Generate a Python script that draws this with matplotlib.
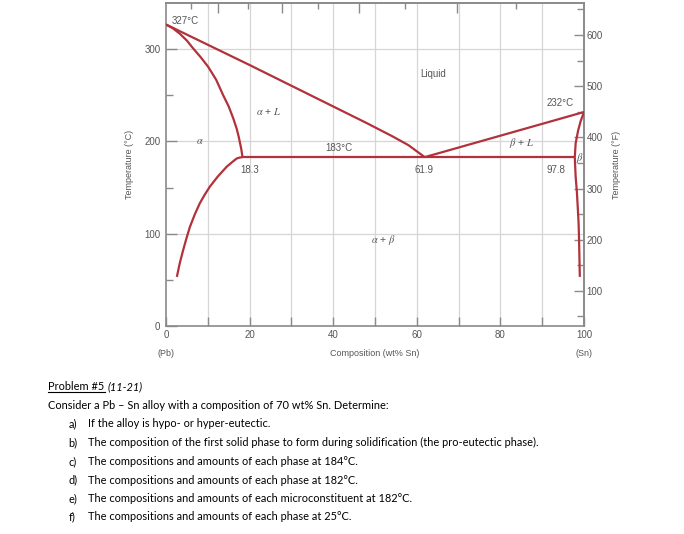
import matplotlib
matplotlib.use("Agg")
import matplotlib.pyplot as plt
from matplotlib.lines import Line2D

# phase boundaries of the Pb-Sn diagram (wt% Sn, deg C)
liq_left_wt = [0, 10, 20, 30, 40, 48, 54, 58, 61.9]
liq_left_T = [327, 305, 283, 260.5, 238, 220, 206, 196, 183]
liq_right_wt = [61.9, 100]
liq_right_T = [183, 232]
sol_alpha_wt = [0, 1.6, 3.3, 5.0, 6.5, 8.3, 10.1, 12.0, 13.7, 15.0, 16.1, 16.9, 17.4, 18.0, 18.3]
sol_alpha_T = [327, 323, 317, 309.5, 301, 291.5, 281, 267, 250, 238, 225, 214, 205, 192, 183]
solv_alpha_wt = [18.3, 17.6, 16.9, 15.8, 14.5, 12.4, 10.5, 9.3, 8.1, 6.9, 5.7, 4.9, 4.1, 3.3, 2.6]
solv_alpha_T = [183, 182.5, 181.5, 177.5, 172.5, 162, 151, 142.5, 133, 121, 107, 95, 82, 68, 53]
sol_beta_wt = [100, 99.6, 99.2, 98.6, 98.0, 97.8]
sol_beta_T = [232, 227, 222, 212, 198, 183]
solv_beta_wt = [97.8, 97.9, 98.0, 98.3, 98.5, 98.7, 98.8, 98.9, 99.0]
solv_beta_T = [183, 172, 162, 145, 129, 112, 97, 75, 53]
eut_wt = [18.3, 97.8]
eut_T = [183, 183]

# labels inside the diagram
region_text = ["327°C", "Liquid", r"$\alpha$ + $L$", r"$\alpha$", "183°C", "18.3",
               "61.9", "97.8", "232°C", r"$\beta$ + $L$", r"$\beta$", r"$\alpha$ + $\beta$"]
region_wt = [1.4, 64, 24.5, 8, 41.3, 20.1, 61.7, 93.2, 94.4, 85.2, 99.0, 52]
region_T = [331, 273, 232, 200, 193, 169, 169.5, 169.5, 242, 198, 182, 93]

xticks = [0, 20, 40, 60, 80, 100]
yticks_C = [0, 100, 200, 300]
yticks_F = [100, 200, 300, 400, 500, 600]
top_at = [10, 20, 30, 40, 50, 60, 70, 80, 90]

problem_items = ["a)", "b)", "c)", "d)", "e)", "f)"]
problem_lines = [
    "If the alloy is hypo- or hyper-eutectic.",
    "The composition of the first solid phase to form during solidification (the pro-eutectic phase).",
    "The compositions and amounts of each phase at 184°C.",
    "The compositions and amounts of each phase at 182°C.",
    "The compositions and amounts of each microconstituent at 182°C.",
    "The compositions and amounts of each phase at 25°C.",
]

plt.rcParams["font.family"] = ["Liberation Sans", "DejaVu Sans"]
plt.rcParams["mathtext.fontset"] = "stix"

W, H = 684, 534
fig = plt.figure(figsize=(W / 100, H / 100), dpi=100)


def fx(px):
    return px / W


def fy(py):
    return 1 - py / H


red = "#b1323a"
gray = "#8a8a8a"
txt = "#555555"

ax = fig.add_axes([fx(166), fy(325.7), fx(584) - fx(166), fy(3.3) - fy(325.7)])
ax.set_xlim(0, 100)
ax.set_ylim(0, 350)

for v in range(10, 100, 10):
    ax.axvline(v, color="#d6d6d6", lw=0.9, zorder=0)
for v in [100, 200, 300]:
    ax.axhline(v, color="#d6d6d6", lw=0.9, zorder=0)

for xs, ys in [(liq_left_wt, liq_left_T), (liq_right_wt, liq_right_T),
               (sol_alpha_wt, sol_alpha_T), (solv_alpha_wt, solv_alpha_T),
               (sol_beta_wt, sol_beta_T), (solv_beta_wt, solv_beta_T),
               (eut_wt, eut_T)]:
    ax.plot(xs, ys, color=red, lw=1.6, solid_capstyle="butt",
            solid_joinstyle="round", zorder=3)

for s, x, y in zip(region_text, region_wt, region_T):
    ha = "left" if s == "327°C" else "center"
    fs = 7.5 if "$" in s else 7
    ax.text(x, y, s, ha=ha, va="center", fontsize=fs, color=txt, zorder=4)

for sp in ax.spines.values():
    sp.set_color(gray)
    sp.set_linewidth(1.2)

ax.set_xticks(xticks)
ax.set_xticks(range(10, 100, 20), minor=True)
ax.set_yticks(yticks_C)
ax.set_yticks(range(50, 350, 100), minor=True)
ax.tick_params(axis="x", which="both", direction="in", length=6.5, width=1,
               color=gray, labelsize=7, labelcolor=txt, pad=3)
ax.tick_params(axis="y", which="major", direction="in", length=7.7, width=1,
               color=gray, labelsize=7, labelcolor=txt, pad=4)
ax.tick_params(axis="y", which="minor", direction="in", length=5.3, width=1,
               color=gray)

ax.set_xlabel("Composition (wt% Sn)", fontsize=6.5, color=txt)
ax.xaxis.label.set_va("center")
ax.xaxis.set_label_coords(0.5, -0.0856)
ax.set_ylabel("Temperature (°C)", fontsize=6.5, color=txt)
ax.yaxis.label.set_va("center")
ax.yaxis.set_label_coords(-0.088, 0.5)
ax.text(0, -0.0856, "(Pb)", transform=ax.transAxes, ha="center", va="center",
        fontsize=6.5, color=txt)
ax.text(1, -0.0856, "(Sn)", transform=ax.transAxes, ha="center", va="center",
        fontsize=6.5, color=txt)

# Fahrenheit scale on the right
right = ax.secondary_yaxis("right", functions=(lambda c: c * 1.8 + 32,
                                               lambda f: (f - 32) / 1.8))
right.spines["right"].set_color(gray)
right.spines["right"].set_linewidth(1.2)
right.set_yticks(yticks_F)
right.set_yticks(range(50, 700, 100), minor=True)
right.tick_params(which="major", direction="in", length=7.2, width=1, color=gray,
                  labelsize=7, labelcolor=txt, pad=2)
right.tick_params(which="minor", direction="in", length=5, width=1, color=gray)
ax.text(1.078, 0.5, "Temperature (°F)", transform=ax.transAxes, rotation=90,
        ha="center", va="center", fontsize=6.5, color=txt)


# atomic percent ticks along the top
def wt2at(w):
    return (w / 118.71) / (w / 118.71 + (100 - w) / 207.2) * 100


def at2wt(a):
    return (a * 118.71) / (a * 118.71 + (100 - a) * 207.2) * 100


top = ax.secondary_xaxis("top", functions=(wt2at, at2wt))
top.spines["top"].set_color(gray)
top.spines["top"].set_linewidth(1.2)
top.set_xticks([t for t in top_at if t % 20 == 0])
top.set_xticks([t for t in top_at if t % 20 != 0], minor=True)
top.tick_params(which="major", direction="in", length=7.2, width=1, color=gray,
                labeltop=False)
top.tick_params(which="minor", direction="in", length=4.5, width=1, color=gray)

# problem statement below the chart
pfont = ["Lato", "DejaVu Sans"]
fs = 7.9
renderer = fig.canvas.get_renderer()
t = fig.text(fx(48.3), fy(386.7), "Problem #5", fontsize=fs, family=pfont,
             va="center", ha="left")
bb = t.get_window_extent(renderer=renderer)
fig.add_artist(Line2D([fx(bb.x0), fx(bb.x1)], [fy(391.5), fy(391.5)],
                      color="black", lw=0.8))
fig.text(fx(bb.x1 + 3), fy(386.7), "(11-21)", fontsize=fs, family=pfont,
         style="italic", va="center", ha="left")
fig.text(fx(48.3), fy(405.7), "Consider a Pb – Sn alloy with a composition of 70 wt% Sn. Determine:",
         fontsize=fs, family=pfont, va="center", ha="left")
ys = [423.3, 442.3, 461.5, 480, 498.5, 517]
for lab, line, y in zip(problem_items, problem_lines, ys):
    fig.text(fx(68.3), fy(y), lab, fontsize=fs, family=pfont, va="center", ha="left")
    fig.text(fx(88.3), fy(y), line, fontsize=fs, family=pfont, va="center", ha="left")

fig.savefig("out.png", dpi=100)
